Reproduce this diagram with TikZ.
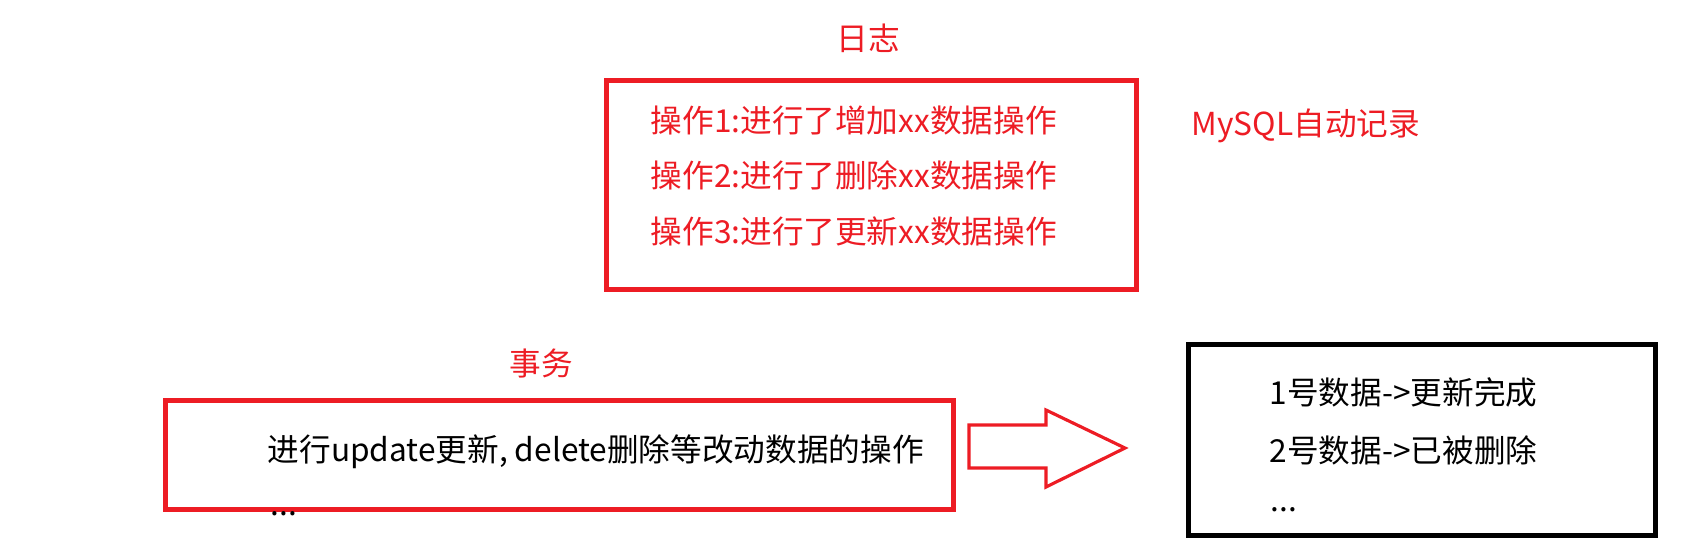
\documentclass[tikz,border=0pt]{standalone}
\usepackage{fontspec}
\setmainfont{Noto Sans CJK SC}
\usepackage{tikz}

\definecolor{logred}{RGB}{237,28,36}

\begin{document}
\begin{tikzpicture}[x=0.01cm,y=-0.01cm]
            \tikzstyle{every node}+=[inner sep=0pt, font=\fontsize{9}{11}\selectfont]
            \tikzstyle{redbox}=[draw=logred, line width=1.3pt, anchor=north west]
            \tikzstyle{blackbox}=[draw=black, line width=1.4pt, anchor=north west]
            \tikzstyle{redtext}=[text=logred]
            \useasboundingbox (0,0) rectangle (1708,553);
            % log
            \node [redtext] (logtitle) at (868,38) {日志};
            \node [redbox, minimum width=5.30cm, minimum height=2.09cm] (logbox) at (604,78) {};
            \node [redtext, anchor=west] (op1) at (650,120) {操作1:进行了增加xx数据操作};
            \node [redtext, anchor=west] (op2) at (650,175) {操作2:进行了删除xx数据操作};
            \node [redtext, anchor=west] (op3) at (650,231) {操作3:进行了更新xx数据操作};
            \node [redtext, anchor=west] (auto) at (1191,126) {MySQL自动记录};
            % transaction
            \node [redtext] (txtitle) at (541,363) {事务};
            \node [redbox, minimum width=7.88cm, minimum height=1.09cm] (txbox) at (163,398) {};
            \node [anchor=west] (txop) at (267,452) {进行update更新, delete删除等改动数据的操作};
            \node [anchor=west] (txmore) at (270,514) {...};
            % result
            \draw [logred, line width=0.9pt] (969,425) -- (1046,425) -- (1046,410) -- (1125,448)
                -- (1046,487) -- (1046,468) -- (969,468) -- cycle;
            \node [blackbox, minimum width=4.67cm, minimum height=1.91cm] (resbox) at (1186,342) {};
            \node [anchor=west] (res1) at (1269,392) {1号数据->更新完成};
            \node [anchor=west] (res2) at (1269,450) {2号数据->已被删除};
            \node [anchor=west] (resmore) at (1270,510) {...};
\end{tikzpicture}
\end{document}
